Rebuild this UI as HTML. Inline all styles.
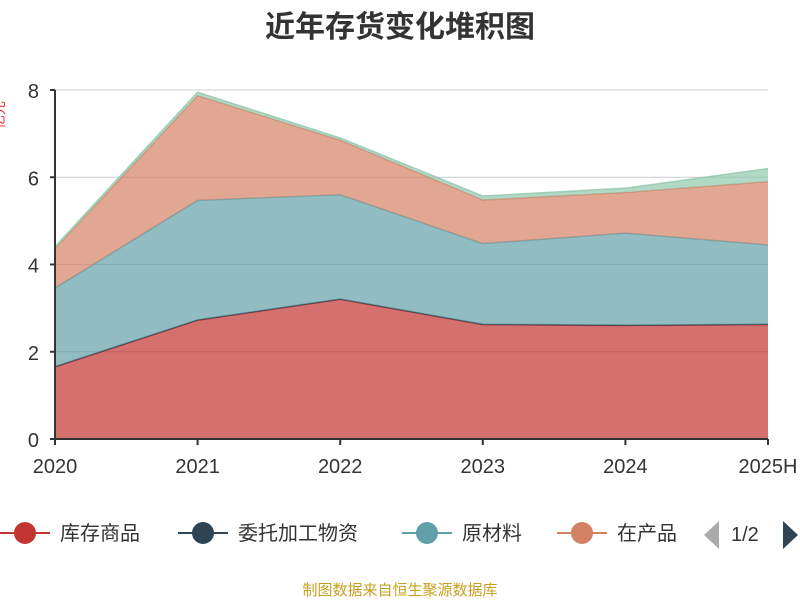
<!DOCTYPE html>
<html><head><meta charset="utf-8"><style>
body{margin:0;background:#fff;width:800px;height:600px;overflow:hidden;font-family:"Liberation Sans","Noto Sans CJK SC",sans-serif}
</style></head><body>
<svg width="800" height="600" xmlns="http://www.w3.org/2000/svg" font-family="Liberation Sans, Noto Sans CJK SC, sans-serif">
<text x="400" y="37" text-anchor="middle" font-size="30" font-weight="bold" fill="#333">近年存货变化堆积图</text>
<text transform="translate(4,115) rotate(-90)" text-anchor="middle" font-size="14" fill="#e33">亿元</text>
<g id="grid"></g><g id="areas"></g><g id="axes"></g>
<g font-size="20" fill="#333">
<g><line x1="0" y1="533" x2="50" y2="533" stroke="#c23531" stroke-width="2"/><circle cx="25" cy="533" r="11" fill="#c23531"/><text x="60" y="540">库存商品</text></g>
<g><line x1="178" y1="533" x2="228" y2="533" stroke="#2f4554" stroke-width="2"/><circle cx="203" cy="533" r="11" fill="#2f4554"/><text x="238" y="540">委托加工物资</text></g>
<g><line x1="402" y1="533" x2="452" y2="533" stroke="#61a0a8" stroke-width="2"/><circle cx="427" cy="533" r="11" fill="#61a0a8"/><text x="462" y="540">原材料</text></g>
<g><line x1="557" y1="533" x2="607" y2="533" stroke="#d48265" stroke-width="2"/><circle cx="582" cy="533" r="11" fill="#d48265"/><text x="617" y="540" clip-path="url(#lc)">在产品</text></g>
<clipPath id="lc"><rect x="600" y="510" width="83" height="40"/></clipPath>
<polygon points="719,521 719,549 704,535" fill="#aaa"/>
<text x="731" y="541">1/2</text>
<polygon points="783,521 783,549 798,535" fill="#2f4554"/>
</g>
<text x="400" y="595" text-anchor="middle" font-size="15" fill="#c8a020">制图数据来自恒生聚源数据库</text>
</svg>
<script>
const categories=["2020","2021","2022","2023","2024","2025H"];
const seriesNames=["库存商品","委托加工物资","原材料","在产品","其他"];
const s0=[1.65,2.72,3.2,2.62,2.6,2.62];
const s1=[0.01,0.01,0.01,0.01,0.01,0.01];
const s2=[1.8,2.74,2.39,1.85,2.11,1.82];
const s3=[0.9,2.4,1.25,1.0,0.93,1.45];
const s4=[0.05,0.08,0.05,0.09,0.1,0.3];
const yTicks=[0,2,4,6,8];
const colors=["#c23531","#2f4554","#61a0a8","#d48265","#91c7ae"];
const NS="http://www.w3.org/2000/svg";
const X0=55,X1=768,Y0=439,Y1=90,YMAX=8;
const xs=i=>X0+i*(X1-X0)/(categories.length-1);
const ys=v=>Y0-v/YMAX*(Y0-Y1);
function mk(t,a,p){const e=document.createElementNS(NS,t);for(const k in a)e.setAttribute(k,a[k]);p.appendChild(e);return e;}
const grid=document.getElementById('grid'),areas=document.getElementById('areas'),axes=document.getElementById('axes');
yTicks.forEach(t=>{
 if(t>0){const l=mk('line',{x1:X0,x2:X1,y1:ys(t),y2:ys(t),stroke:'#ccc'},grid);
 
 }
 const tx=mk('text',{x:X0-16,y:ys(t)+8,'text-anchor':'end','font-size':20,fill:'#333'},axes);tx.textContent=t;
 
 
 mk('line',{x1:X0-5,x2:X0,y1:ys(t),y2:ys(t),stroke:'#333','stroke-width':2},axes);
});
const all=[s0,s1,s2,s3,s4];let base=categories.map(()=>0);
all.forEach((s,k)=>{
 const top=base.map((b,i)=>b+s[i]);
 let pts=top.map((v,i)=>xs(i)+','+ys(v));
 for(let i=categories.length-1;i>=0;i--)pts.push(xs(i)+','+ys(base[i]));
 const p=mk('polygon',{points:pts.join(' '),fill:colors[k],'fill-opacity':0.7},areas);
 
 
 const l=mk('polyline',{points:top.map((v,i)=>xs(i)+','+ys(v)).join(' '),fill:'none',stroke:colors[k],'stroke-width':1.5,'stroke-opacity':0.8},areas);
 
 
 base=top;
});
mk('line',{x1:X0,x2:X0,y1:Y1,y2:Y0,stroke:'#333','stroke-width':2},axes);
mk('line',{x1:X0,x2:X1,y1:Y0,y2:Y0,stroke:'#333','stroke-width':2},axes);
categories.forEach((c,i)=>{
 mk('line',{x1:xs(i),x2:xs(i),y1:Y0,y2:Y0+6,stroke:'#333','stroke-width':2},axes);
 const t=mk('text',{x:xs(i),y:Y0+34,'text-anchor':'middle','font-size':20,fill:'#333'},axes);t.textContent=c;
 
 
});
</script>
</body></html>
